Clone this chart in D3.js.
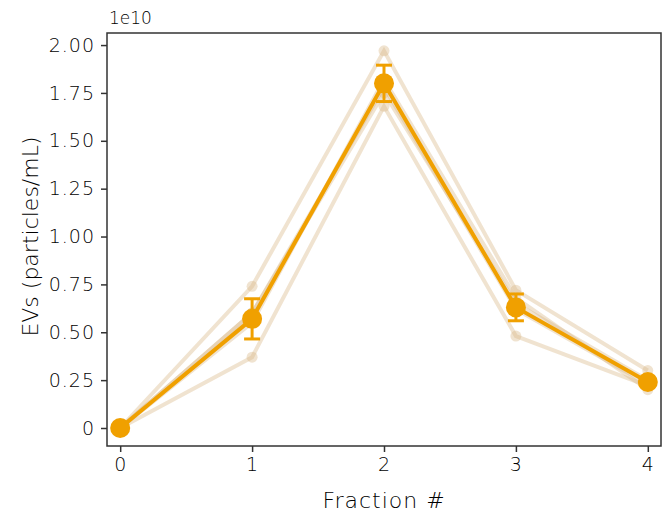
<!DOCTYPE html>
<html>
<head>
<meta charset="utf-8">
<script src="https://cdn.jsdelivr.net/npm/d3@7"></script>
<style>
  body { margin: 0; background: #fff; }
  text { font-family: "DejaVu Sans", sans-serif; font-weight: 200; fill: #000; }
</style>
</head>
<body>
<div id="chart"></div>
<script>
// fractions on the x axis
var fractions = [0, 1, 2, 3, 4];
// single replicates (units of 1e10 particles/mL)
var rep1 = [0, 0.74, 1.97, 0.72, 0.30];
var rep2 = [0, 0.37, 1.68, 0.48, 0.22];
var rep3 = [0, 0.60, 1.75, 0.65, 0.25];
var rep4 = [0, 0.55, 1.82, 0.68, 0.20];
var rep5 = [0, 0.60, 1.78, 0.62, 0.23];
// mean and error bar half-length
var meanVals = [0, 0.57, 1.80, 0.63, 0.24];
var errVals = [0, 0.105, 0.095, 0.07, 0.02];
// tick labels
var yTicks = [0, 0.25, 0.5, 0.75, 1.0, 1.25, 1.5, 1.75, 2.0];

var width = 667, height = 517;
var margin = {top: 33, right: 6, bottom: 71, left: 107};

var svg = d3.select("#chart").append("svg")
  .attr("width", width)
  .attr("height", height);

var x = d3.scaleLinear().domain([-0.1, 4.1]).range([margin.left, width - margin.right]);
var y = d3.scaleLinear().domain([-0.094, 2.063]).range([height - margin.bottom, margin.top]);

// faint replicate lines
var reps = [rep1, rep2, rep3, rep4, rep5];
var line = d3.line()
  .x(function(d, i) { return x(fractions[i]); })
  .y(function(d) { return y(d); });

reps.forEach(function(r) {
  svg.append("path")
    .attr("d", line(r))
    .attr("fill", "none")
    .attr("stroke", "#d9b98a")
    .attr("stroke-opacity", 0.4)
    .attr("stroke-width", 4);
  svg.selectAll(null).data(r).enter().append("circle")
    .attr("cx", function(d, i) { return x(fractions[i]); })
    .attr("cy", function(d) { return y(d); })
    .attr("r", 5.5)
    .attr("fill", "#d9b98a")
    .attr("fill-opacity", 0.4);
});

// mean line
var orange = "#f0a000";
svg.append("path")
  .attr("d", line(meanVals))
  .attr("fill", "none")
  .attr("stroke", orange)
  .attr("stroke-width", 4);

// error bars
var eb = svg.selectAll(".eb").data(meanVals).enter().append("g");
eb.append("line")
  .attr("x1", function(d, i) { return x(fractions[i]); })
  .attr("x2", function(d, i) { return x(fractions[i]); })
  .attr("y1", function(d, i) { return y(d - errVals[i]); })
  .attr("y2", function(d, i) { return y(d + errVals[i]); })
  .attr("stroke", orange).attr("stroke-width", 3);
[-1, 1].forEach(function(s) {
  eb.append("line")
    .attr("x1", function(d, i) { return x(fractions[i]) - 8; })
    .attr("x2", function(d, i) { return x(fractions[i]) + 8; })
    .attr("y1", function(d, i) { return y(d + s * errVals[i]); })
    .attr("y2", function(d, i) { return y(d + s * errVals[i]); })
    .attr("stroke", orange).attr("stroke-width", 3)
    .attr("display", function(d, i) { return errVals[i] > 0 ? null : "none"; });
});

svg.selectAll(".mean").data(meanVals).enter().append("circle")
  .attr("cx", function(d, i) { return x(fractions[i]); })
  .attr("cy", function(d) { return y(d); })
  .attr("r", 10)
  .attr("fill", orange);

// frame
svg.append("rect")
  .attr("x", margin.left).attr("y", margin.top)
  .attr("width", width - margin.right - margin.left)
  .attr("height", height - margin.bottom - margin.top)
  .attr("fill", "none").attr("stroke", "#333").attr("stroke-width", 1.5);

// axes
var xAxis = svg.append("g")
  .attr("transform", "translate(0," + (height - margin.bottom) + ")")
  .call(d3.axisBottom(x).tickValues(fractions).tickSize(6).tickPadding(6).tickFormat(d3.format("d")));
var yAxis = svg.append("g")
  .attr("transform", "translate(" + margin.left + ",0)")
  .call(d3.axisLeft(y).tickValues(yTicks).tickSize(6).tickPadding(6)
    .tickFormat(function(d) { return d === 0 ? "0" : d3.format(".2f")(d); }));
[xAxis, yAxis].forEach(function(a) {
  a.select(".domain").remove();
  a.selectAll(".tick line").attr("stroke", "#333").attr("stroke-width", 1.5);
  a.selectAll(".tick text")
    .style("font-size", "19px")
    .style("font-family", "\"DejaVu Sans\", sans-serif")
    .style("font-weight", 200)
    .style("letter-spacing", "1px")
    .attr("fill", "#000");
});

svg.append("text")
  .attr("x", 109).attr("y", 24)
  .style("font-size", "17px")
  .text("1e10");

svg.append("text")
  .attr("x", (margin.left + width - margin.right) / 2)
  .attr("y", 508)
  .attr("text-anchor", "middle")
  .style("font-size", "22px")
  .style("letter-spacing", "1px")
  .text("Fraction #");

svg.append("text")
  .attr("transform", "translate(38," + y(1.0) + ") rotate(-90)")
  .attr("text-anchor", "middle")
  .style("font-size", "22px")
  .text("EVs (particles/mL)");
</script>
</body>
</html>
